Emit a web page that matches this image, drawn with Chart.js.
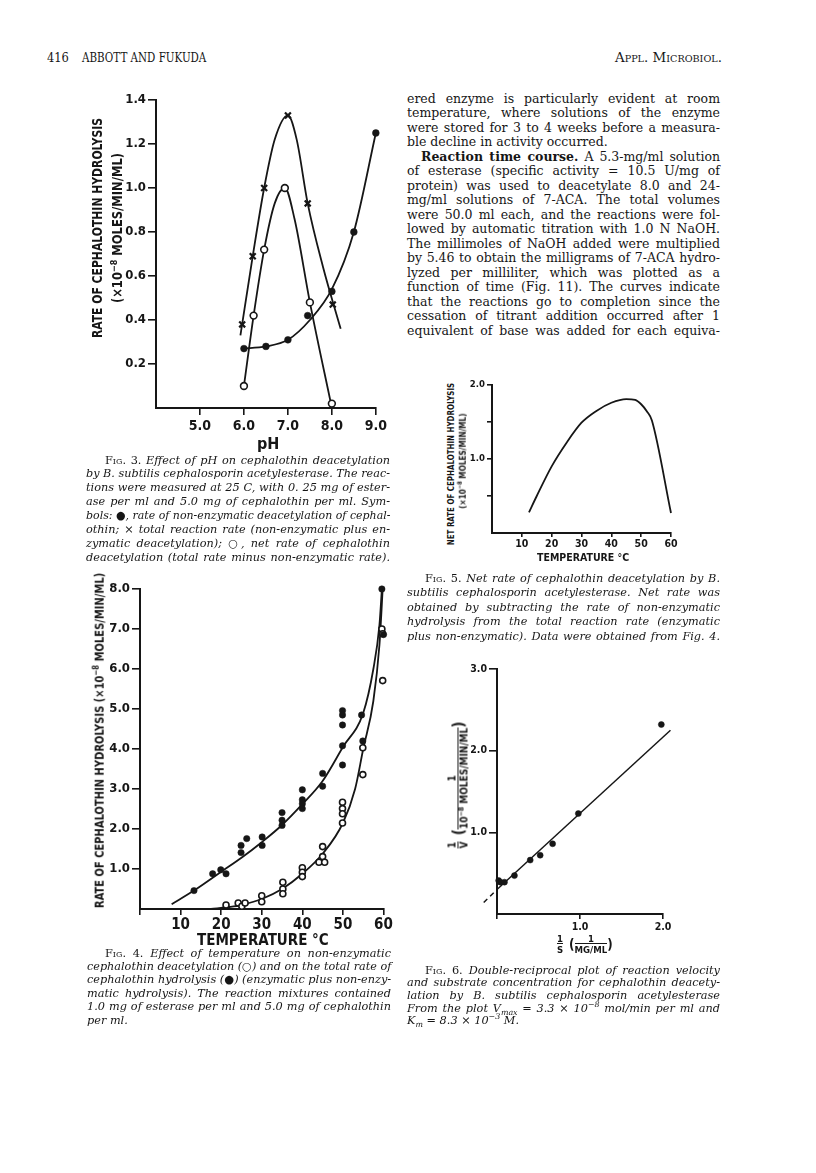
<!DOCTYPE html>
<html>
<head>
<meta charset="utf-8">
<script src="https://cdn.jsdelivr.net/npm/chart.js@4.4.1/dist/chart.umd.min.js"></script>
<style>
  body { margin: 0; background: #fff; }
  #page { position: relative; width: 816px; height: 1173px; overflow: hidden; color: #161616;
          font-family: "DejaVu Serif", "Liberation Serif", serif; }
  canvas { position: absolute; }
  .t { position: absolute; white-space: nowrap; }
  .cond { font-family: "Liberation Sans Narrow", "DejaVu Sans Condensed", Roboto, sans-serif; font-weight: bold; }
  .body { font-size: 12.5px; }
  .cap { font-size: 11.3px; font-style: italic; }
  .sc { font-style: normal; font-variant: small-caps; }
  .frac { display: inline-flex; flex-direction: column; align-items: center; vertical-align: middle; line-height: 1.0; }
  .frac .den { border-top: 1.3px solid #161616; padding-top: 1px; }
  sup { font-size: 70%; line-height: 0; }
  sub { font-size: 70%; line-height: 0; }
</style>
</head>
<body>
<div id="page"></div>
<script>
// ---------- Fig. 3 : rate vs pH ----------
const fig3DotPH = [6.0, 6.5, 7.0, 7.45, 8.0, 8.5, 9.0];
const fig3DotRate = [0.27, 0.28, 0.31, 0.42, 0.53, 0.80, 1.25];
const fig3CrossPH = [5.96, 6.2, 6.46, 7.0, 7.45, 8.02];
const fig3CrossRate = [0.38, 0.69, 1.00, 1.33, 0.93, 0.47];
const fig3OpenPH = [6.0, 6.22, 6.46, 6.93, 7.5, 8.0];
const fig3OpenRate = [0.10, 0.42, 0.72, 1.00, 0.48, 0.02];
// hand drawn curves
const fig3TotalCurve = [[5.92, 0.33], [6.2, 0.69], [6.46, 1.0], [6.7, 1.22], [7.0, 1.33], [7.2, 1.22], [7.45, 0.93], [7.8, 0.64], [8.2, 0.36]];
const fig3NetCurve = [[6.0, 0.1], [6.22, 0.42], [6.46, 0.72], [6.7, 0.93], [6.93, 1.0], [7.15, 0.86], [7.5, 0.48], [8.0, 0.0]];
const fig3NonEnzCurve = [[5.95, 0.27], [6.5, 0.28], [7.0, 0.31], [7.5, 0.40], [8.0, 0.54], [8.5, 0.80], [9.0, 1.25]];
const fig3XTicks = [5, 6, 7, 8, 9];
const fig3XLabels = ["5.0", "6.0", "7.0", "8.0", "9.0"];
const fig3YTicks = [0.2, 0.4, 0.6, 0.8, 1.0, 1.2, 1.4];
const fig3YLabels = ["0.2", "0.4", "0.6", "0.8", "1.0", "1.2", "1.4"];

// ---------- Fig. 4 : rate vs temperature ----------
const fig4TotalTemp = [13.3, 17.9, 19.9, 21.2, 24.9, 24.9, 26.3, 30.1, 30.1, 35, 35, 35, 40, 40, 40, 40, 45, 45, 49.9, 49.9, 49.9, 49.9, 49.9, 54.6, 54.9, 59.6, 60];
const fig4TotalRate = [0.46, 0.88, 0.98, 0.88, 1.41, 1.59, 1.76, 1.80, 1.59, 2.41, 2.22, 2.09, 2.98, 2.73, 2.63, 2.51, 3.39, 3.07, 4.96, 4.85, 4.60, 4.08, 3.60, 4.85, 4.20, 8.0, 6.86];
const fig4NetTemp = [21.2, 24.2, 25.1, 25.9, 30, 30, 35.2, 35.2, 35.2, 40, 40, 40, 44.1, 45, 45, 45.5, 49.9, 49.9, 49.9, 49.9, 54.9, 54.9, 59.6, 59.8, 59.8];
const fig4NetRate = [0.10, 0.15, 0.07, 0.15, 0.33, 0.18, 0.67, 0.50, 0.38, 1.03, 0.92, 0.81, 1.17, 1.56, 1.31, 1.17, 2.67, 2.51, 2.38, 2.15, 4.03, 3.36, 7.0, 6.88, 5.71];
const fig4TotalCurve = [[7.8, 0.12], [13.3, 0.46], [20, 0.93], [25, 1.28], [30, 1.67], [35, 2.1], [40, 2.62], [45, 3.2], [50, 4.05], [55, 4.9], [57.5, 6.0], [59, 7.1], [59.6, 8.0]];
const fig4NetCurve = [[17.5, 0.0], [22, 0.05], [25, 0.1], [30, 0.25], [35, 0.5], [40, 0.88], [45, 1.38], [50, 2.15], [53, 3.0], [55, 4.0], [57.5, 5.2], [59, 6.6], [59.8, 8.0]];
const fig4XTicks = [0, 10, 20, 30, 40, 50, 60];
const fig4XLabels = ["", "10", "20", "30", "40", "50", "60"];
const fig4YTicks = [1, 2, 3, 4, 5, 6, 7, 8];
const fig4YLabels = ["1.0", "2.0", "3.0", "4.0", "5.0", "6.0", "7.0", "8.0"];

// ---------- Fig. 5 : net rate vs temperature ----------
const fig5NetCurve = [[12.4, 0.28], [15, 0.5], [20, 0.9], [25, 1.22], [30, 1.49], [35, 1.65], [40, 1.76], [45, 1.81], [48, 1.8], [50, 1.74], [52, 1.64], [53.6, 1.52], [60, 0.27]];
const fig5XTicks = [10, 20, 30, 40, 50, 60];
const fig5XLabels = ["10", "20", "30", "40", "50", "60"];
const fig5YTicks = [0.5, 1.0, 1.5, 2.0];
const fig5YLabels = ["", "1.0", "", "2.0"];

// ---------- Fig. 6 : double reciprocal ----------
const fig6InvS = [0.02, 0.04, 0.09, 0.21, 0.40, 0.52, 0.67, 0.98, 1.98];
const fig6InvV = [0.41, 0.39, 0.39, 0.47, 0.66, 0.72, 0.86, 1.23, 2.32];
const fig6FitLine = [[0, 0.30], [2.09, 2.25]];
const fig6Extrapolation = [[-0.16, 0.14], [0, 0.30]];
const fig6XTicks = [0, 1, 2];
const fig6XLabels = ["", "1.0", "2.0"];
const fig6YTicks = [1, 2, 3];
const fig6YLabels = ["1.0", "2.0", "3.0"];

const COND = '"Liberation Sans Narrow", "DejaVu Sans Condensed", Roboto, sans-serif';
const INK = "#161616";
const page = document.getElementById("page");

const pts = (xs, ys) => xs.map((x, i) => ({ x: x, y: ys[i] }));
const pairs = a => a.map(p => ({ x: p[0], y: p[1] }));

function curve(a, extra) {
  return Object.assign({
    data: pairs(a), showLine: true, pointRadius: 0, borderColor: INK, borderWidth: 1.8,
    cubicInterpolationMode: "monotone", clip: false, order: 2
  }, extra || {});
}

function marks(xs, ys, kind, r) {
  const d = { data: pts(xs, ys), showLine: false, order: 1, clip: false, pointRadius: r, pointHoverRadius: r, borderColor: INK };
  if (kind == "filled") return Object.assign(d, { pointStyle: "circle", backgroundColor: INK, borderWidth: 0.5 });
  if (kind == "open") return Object.assign(d, { pointStyle: "circle", backgroundColor: "#fff", borderWidth: 1.6 });
  return Object.assign(d, { pointStyle: "crossRot", borderWidth: 2.2 });
}

function scale(min, max, ticks, labels, o) {
  return {
    type: "linear", min: min, max: max,
    afterBuildTicks: s => { s.ticks = ticks.map(v => ({ value: v })); },
    afterFit: s => { if (o.w !== undefined) s.width = o.w; if (o.h !== undefined) s.height = o.h; },
    grid: { drawOnChartArea: false, drawTicks: true, tickLength: o.tl, color: INK, lineWidth: 1.6 },
    border: { display: true, color: INK, width: 2 },
    ticks: {
      autoSkip: false, maxRotation: 0, padding: o.pad, color: INK,
      font: { family: COND, size: o.fs, weight: "bold" },
      callback: (v, i) => labels[i]
    }
  };
}

function plot(box, pad, datasets, xs, ys) {
  const c = document.createElement("canvas");
  c.width = box[2]; c.height = box[3];
  c.style.left = box[0] + "px"; c.style.top = box[1] + "px";
  page.appendChild(c);
  new Chart(c, {
    type: "scatter",
    data: { datasets: datasets },
    options: {
      responsive: false, animation: false, devicePixelRatio: 1,
      layout: { padding: pad },
      plugins: { legend: { display: false }, tooltip: { enabled: false } },
      scales: { x: xs, y: ys }
    }
  });
}

// ---------- text helpers ----------
function make(html, cls, size) {
  const d = document.createElement("div");
  d.className = "t " + (cls || "");
  if (size) d.style.fontSize = size + "px";
  d.innerHTML = html;
  page.appendChild(d);
  return d;
}

function text(html, x, y, cls, w, size) {
  const d = make(html, cls, size);
  const h = d.offsetHeight;
  d.style.left = x + "px"; d.style.top = (y - h / 2) + "px";
  if (w) {
    d.style.transformOrigin = "0 50%";
    d.style.transform = "scaleX(" + (w / d.offsetWidth) + ")";
  }
  return d;
}

function centred(html, cx, cy, cls, size) {
  const d = make(html, cls, size);
  d.style.left = (cx - d.offsetWidth / 2) + "px";
  d.style.top = (cy - d.offsetHeight / 2) + "px";
  return d;
}

function rotated(html, cx, cy, cls, size, len) {
  const d = make(html, cls, size);
  const w = d.offsetWidth, h = d.offsetHeight;
  d.style.left = (cx - w / 2) + "px"; d.style.top = (cy - h / 2) + "px";
  d.style.transform = "rotate(-90deg)" + (len ? " scaleX(" + (len / w) + ")" : "");
  return d;
}

// lines: [html, justify?]; the first line carries the indent
function block(lines, x, right, y0, lh, cls, indent, extra) {
  lines.forEach((ln, i) => {
    const left = x + (i == 0 ? (indent || 0) : 0) + ((extra && extra[i]) || 0);
    const w = right - left;
    const d = make(ln[0], cls);
    const nat = d.offsetWidth, h = d.offsetHeight;
    d.style.left = left + "px";
    d.style.top = (y0 + i * lh - h / 2) + "px";
    if (nat > w) {
      d.style.transformOrigin = "0 50%";
      d.style.transform = "scaleX(" + (w / nat) + ")";
    } else if (ln[1]) {
      d.style.width = w + "px";
      d.style.textAlign = "justify";
      d.style.textAlignLast = "justify";
    }
  });
}

// ---------- header ----------
text("416", 47, 57, "body", 22);
text("ABBOTT AND FUKUDA", 82, 57, "body", 124);
text('<span style="font-variant:small-caps">Appl. Microbiol.</span>', 615, 57, "body", 107);

// ---------- Fig. 3 ----------
plot([80, 90, 310, 345], { top: 10, right: 12, left: 0, bottom: 0 }, [
  marks(fig3DotPH, fig3DotRate, "filled", 3.4),
  marks(fig3CrossPH, fig3CrossRate, "cross", 4.2),
  marks(fig3OpenPH, fig3OpenRate, "open", 3.4),
  curve(fig3TotalCurve), curve(fig3NetCurve), curve(fig3NonEnzCurve)
], scale(4, 9, fig3XTicks, fig3XLabels, { h: 27, tl: 7, pad: 3, fs: 14 }),
   scale(0, 1.4, fig3YTicks, fig3YLabels, { w: 76, tl: 8, pad: 2, fs: 13 }));
rotated("RATE OF CEPHALOTHIN HYDROLYSIS", 96, 228, "cond", 13.5, 220);
rotated("(×10<sup>−8</sup> MOLES/MIN/ML)", 117, 228, "cond", 13.5, 150);
centred("pH", 268, 443, "cond", 16);

block([
  ['<span class="sc">Fig. 3.</span> Effect of pH on cephalothin deacetylation', true],
  ["by <i>B</i>. subtilis cephalosporin acetylesterase. The reac-", true],
  ["tions were measured at 25 C, with 0. 25 mg of ester-", true],
  ["ase per ml and 5.0 mg of cephalothin per ml. Sym-", true],
  ['bols: <span style="font-style:normal">●</span>, rate of non-enzymatic deacetylation of cephal-', true],
  ['othin; <span style="font-style:normal">×</span> total reaction rate (non-enzymatic plus en-', true],
  ['zymatic deacetylation); <span style="font-style:normal">○</span>, net rate of cephalothin', true],
  ["deacetylation (total rate minus non-enzymatic rate).", true]
], 86, 390, 460, 13.9, "cap", 19);

// ---------- right column text ----------
block([
  ["ered enzyme is particularly evident at room", true],
  ["temperature, where solutions of the enzyme", true],
  ["were stored for 3 to 4 weeks before a measura-", true],
  ["ble decline in activity occurred.", false],
  ["<b>Reaction time course.</b> A 5.3-mg/ml solution", true],
  ["of esterase (specific activity = 10.5 U/mg of", true],
  ["protein) was used to deacetylate 8.0 and 24-", true],
  ["mg/ml solutions of 7-ACA. The total volumes", true],
  ["were 50.0 ml each, and the reactions were fol-", true],
  ["lowed by automatic titration with 1.0 N NaOH.", true],
  ["The millimoles of NaOH added were multiplied", true],
  ["by 5.46 to obtain the milligrams of 7-ACA hydro-", true],
  ["lyzed per milliliter, which was plotted as a", true],
  ["function of time (Fig. 11). The curves indicate", true],
  ["that the reactions go to completion since the", true],
  ["cessation of titrant addition occurred after 1", true],
  ["equivalent of base was added for each equiva-", true]
], 407, 720, 98, 14.5, "body", 0, { 4: 14 });

// ---------- Fig. 5 ----------
plot([465, 375, 215, 180], { top: 10, right: 9, left: 0, bottom: 0 }, [
  curve(fig5NetCurve)
], scale(0, 60, fig5XTicks, fig5XLabels, { h: 22, tl: 4, pad: 1, fs: 10.5 }),
   scale(0, 2.0, fig5YTicks, fig5YLabels, { w: 27, tl: 5, pad: 2, fs: 9.5 }));
rotated("NET RATE OF CEPHALOTHIN HYDROLYSIS", 450, 464, "cond", 9, 162);
rotated("(×10<sup>−8</sup> MOLES/MIN/ML)", 462, 461, "cond", 9, 95);
centred("TEMPERATURE °C", 583, 557, "cond", 10.5);

block([
  ['<span class="sc">Fig. 5.</span> Net rate of cephalothin deacetylation by <i>B.</i>', true],
  ["subtilis cephalosporin acetylesterase. Net rate was", true],
  ["obtained by subtracting the rate of non-enzymatic", true],
  ["hydrolysis from the total reaction rate (enzymatic", true],
  ["plus non-enzymatic). Data were obtained from Fig. 4.", true]
], 407, 720, 578, 14.6, "cap", 18);

// ---------- Fig. 4 ----------
plot([100, 575, 300, 360], { top: 14, right: 16.5, left: 0, bottom: 0 }, [
  marks(fig4TotalTemp, fig4TotalRate, "filled", 3.2),
  marks(fig4NetTemp, fig4NetRate, "open", 3.0),
  curve(fig4TotalCurve), curve(fig4NetCurve)
], scale(0, 60, fig4XTicks, fig4XLabels, { h: 26, tl: 6, pad: 1, fs: 15 }),
   scale(0, 8, fig4YTicks, fig4YLabels, { w: 40, tl: 8, pad: 2, fs: 13 }));
rotated("RATE OF CEPHALOTHIN HYDROLYSIS (×10<sup>−8</sup> MOLES/MIN/ML)", 99, 740, "cond", 13, 335);
centred("TEMPERATURE °C", 263, 940, "cond", 15);

block([
  ['<span class="sc">Fig. 4.</span> Effect of temperature on non-enzymatic', true],
  ['cephalothin deacetylation (<span style="font-style:normal">○</span>) and on the total rate of', true],
  ['cephalothin hydrolysis (<span style="font-style:normal">●</span>) (enzymatic plus non-enzy-', true],
  ["matic hydrolysis). The reaction mixtures contained", true],
  ["1.0 mg of esterase per ml and 5.0 mg of cephalothin", true],
  ["per ml.", false]
], 87, 391, 953, 13.4, "cap", 18);

// ---------- Fig. 6 ----------
plot([460, 655, 215, 280], { top: 14, right: 12, left: 0, bottom: 0 }, [
  marks(fig6InvS, fig6InvV, "filled", 3.0),
  curve(fig6FitLine, { cubicInterpolationMode: "default", tension: 0, borderWidth: 1.5 }),
  curve(fig6Extrapolation, { cubicInterpolationMode: "default", tension: 0, borderWidth: 1.5, borderDash: [5, 4] })
], scale(0, 2, fig6XTicks, fig6XLabels, { h: 21, tl: 5, pad: 2, fs: 10.5 }),
   scale(0, 3, fig6YTicks, fig6YLabels, { w: 37, tl: 8, pad: 2, fs: 10.5 }));
rotated('<span class="frac"><span>1</span><span class="den">V</span></span>&nbsp;&nbsp;<span style="font-size:150%;vertical-align:middle">(</span><span class="frac"><span>1</span><span class="den">10<sup>−8</sup> MOLES/MIN/ML</span></span><span style="font-size:150%;vertical-align:middle">)</span>',
  458, 785, "cond", 10);
centred('<span class="frac"><span>1</span><span class="den">S</span></span>&nbsp;&nbsp;<span style="font-size:140%;vertical-align:middle">(</span><span class="frac"><span>1</span><span class="den">MG/ML</span></span><span style="font-size:140%;vertical-align:middle">)</span>',
  585, 944, "cond", 9.5);

block([
  ['<span class="sc">Fig. 6.</span> Double-reciprocal plot of reaction velocity', true],
  ["and substrate concentration for cephalothin deacety-", true],
  ["lation by <i>B</i>. subtilis cephalosporin acetylesterase", true],
  ["From the plot V<sub>max</sub> = 3.3 × 10<sup>−8</sup> mol/min per ml and", true],
  ["K<sub>m</sub> = 8.3 × 10<sup>−3</sup> M.", false]
], 407, 720, 970, 12.7, "cap", 18);
</script>
</body>
</html>
